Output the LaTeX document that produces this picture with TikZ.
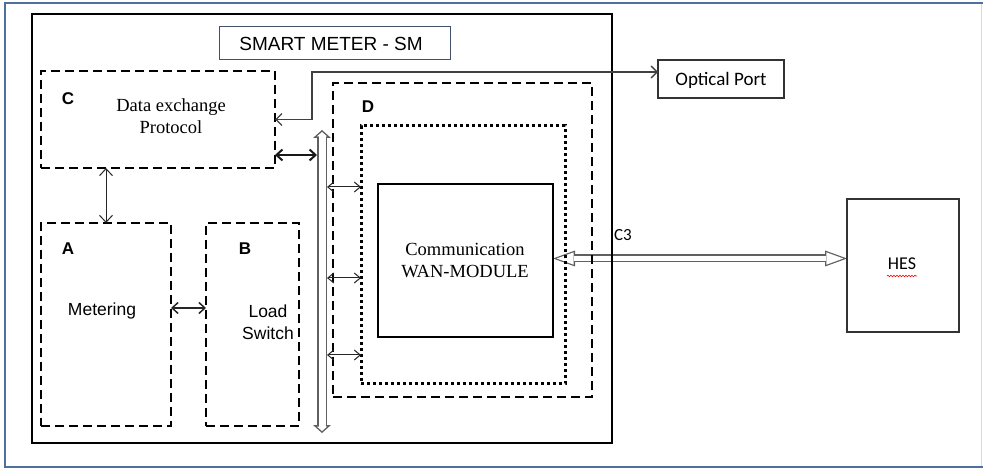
\documentclass[tikz,border=0pt]{standalone}
\usepackage{fontspec}
\setmainfont{Liberation Serif}
\setsansfont{Liberation Sans}
\newfontfamily\calibri{Carlito}
\usetikzlibrary{arrows.meta,calc,decorations.pathmorphing}
\pgfdeclarelayer{behind}
\pgfsetlayers{behind,main}
\definecolor{frameblue}{HTML}{4F6F9C}
\definecolor{titleedge}{HTML}{44506A}
\definecolor{linegray}{HTML}{404040}
\definecolor{hollowgray}{HTML}{606060}
\begin{document}
\begin{tikzpicture}[x=1pt,y=-1pt,
  every node/.style={inner sep=0pt, outer sep=0pt},
  dashbox/.style={draw=black, line width=2pt, dash pattern=on 9pt off 5pt},
  dotbox/.style={draw=black, line width=3pt, dash pattern=on 3pt off 3pt},
  solidbox/.style={draw=black, line width=2pt},
  thinbox/.style={draw=black!80, line width=1.2pt},
  letter/.style={font=\sffamily\bfseries\fontsize{17}{18}\selectfont},
  sanstext/.style={font=\sffamily\fontsize{17.5}{22}\selectfont, align=center},
  seriftext/.style={font=\fontsize{18.5}{22}\selectfont, align=center},
  calibritext/.style={font=\calibri\fontsize{#1}{#1}\selectfont},
  thinarrow/.style={draw=black!85, line width=1pt, {Straight Barb[length=6pt,width=10pt]}-{Straight Barb[length=6pt,width=10pt]}},
  busOuter/.style={draw=hollowgray, line width=10pt, {Triangle[length=8pt,width=18pt,line width=0pt]}-{Triangle[length=8pt,width=18pt,line width=0pt]}},
  busInner/.style={draw=white, line width=7pt, shorten <=2pt, shorten >=2pt, {Triangle[length=4.5pt,width=10.5pt,line width=0pt]}-{Triangle[length=4.5pt,width=10.5pt,line width=0pt]}},
  cOuter/.style={draw=hollowgray, line width=8pt, {Triangle[length=22pt,width=16pt,line width=0pt]}-{Triangle[length=22pt,width=16pt,line width=0pt]}},
  cInner/.style={draw=white, line width=5.5pt, shorten <=3.7pt, shorten >=3.7pt, {Triangle[length=17pt,width=12.4pt,line width=0pt]}-{Triangle[length=17pt,width=12.4pt,line width=0pt]}}
]
\useasboundingbox (0,0) rectangle (983,470);
% outer frame
\draw[frameblue, line width=2pt] (983,3) -- (5,3) -- (5,467) -- (983,467);
\draw[black!15, line width=1pt] (981.5,4) -- (981.5,466);

% smart meter enclosure
\node[solidbox, minimum width=580pt, minimum height=429pt] (sm) at (322,228.5) {};
\node[draw=titleedge, line width=1pt, minimum width=231pt, minimum height=33pt] (title) at (334.5,43.5) {};
\node[font=\sffamily\fontsize{19}{22}\selectfont] (titletext) at (331,43.5) {SMART METER - SM};

% blocks
\node[dashbox, minimum width=234pt, minimum height=97pt] (C) at (158,119.5) {};
\node[letter] (Cl) at (68,99) {C};
\node[seriftext] (Ct) at (171,116) {Data exchange\\Protocol};

\node[dashbox, minimum width=130pt, minimum height=203pt] (A) at (106,324.5) {};
\node[letter] (Al) at (68,249) {A};
\node[sanstext] (At) at (102,311) {Metering};

\node[dashbox, minimum width=93pt, minimum height=203pt] (B) at (252.5,324.5) {};
\node[letter] (Bl) at (245,249) {B};
\node[sanstext] (Bt) at (268,322) {Load\\Switch};

\node[dashbox, minimum width=259pt, minimum height=314pt] (D) at (462.5,240) {};
\node[letter] (Dl) at (368,107) {D};
\node[dotbox, minimum width=204pt, minimum height=258pt] (dot) at (463,255) {};
\node[solidbox, minimum width=175pt, minimum height=153pt] (wan) at (465.5,260.5) {};
\node[seriftext] (want) at (465,261) {Communication\\WAN-MODULE};

\node[thinbox, minimum width=126pt, minimum height=38pt] (opt) at (721,79) {};
\node[calibritext=19] (optt) at (721,80) {Optical Port};

\node[thinbox, minimum width=112pt, minimum height=133pt] (hes) at (903,265.5) {};
\node[calibritext=18] (hest) at (902,264) {HES};
\draw[red, line width=0.6pt, decorate, decoration={snake, amplitude=0.8pt, segment length=3pt}]
  ([xshift=-16pt,yshift=-10.5pt]hes.center) -- ([xshift=14pt,yshift=-10.5pt]hes.center);

% internal bus
\coordinate (bustop) at (322,130);
\coordinate (busbot) at (322,433);
\draw[busOuter] (bustop) -- (busbot);
\draw[busInner] (bustop) -- (busbot);

% C3 link (behind the box outlines it crosses)
\begin{pgfonlayer}{behind}
\draw[cOuter] ([yshift=2pt]wan.east) -- ([yshift=2pt]wan.east -| hes.west);
\draw[cInner] ([yshift=2pt]wan.east) -- ([yshift=2pt]wan.east -| hes.west);
\end{pgfonlayer}
\node[calibritext=17] (c3) at (623,235) {C3};

% connectors
\draw[linegray, line width=1.3pt, {Straight Barb[length=6pt,width=12pt]}-{Straight Barb[length=6pt,width=12pt]}]
  (C.east) -- ++(37,0) |- ([yshift=7pt]opt.west);
\draw[draw=black!90, line width=2pt, {Straight Barb[length=6pt,width=11pt]}-{Straight Barb[length=6pt,width=11pt]}]
  ([yshift=-35.5pt]C.east) -- ([yshift=-35.5pt,xshift=-5pt]C.east -| bustop);
\draw[draw=black!85, line width=1pt, {Straight Barb[length=7pt,width=13pt]}-{Straight Barb[length=7pt,width=13pt]}]
  (A.north) -- (A.north |- C.south);
\draw[draw=black!85, line width=1.5pt, {Straight Barb[length=6pt,width=11pt]}-{Straight Barb[length=6pt,width=11pt]}]
  ([yshift=16.5pt]A.east) -- ([yshift=16.5pt]B.west);
\draw[thinarrow] ([xshift=5pt]bustop |- 0,187) -- (dot.west |- 0,187);
\draw[thinarrow] ([xshift=5pt]bustop |- 0,278) -- (dot.west |- 0,278);
\draw[thinarrow] ([xshift=5pt]bustop |- 0,355) -- (dot.west |- 0,355);
\end{tikzpicture}
\end{document}
